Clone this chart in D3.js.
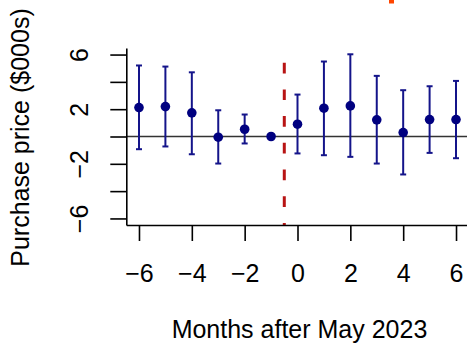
<!DOCTYPE html>
<html>
<head>
<meta charset="utf-8">
<script src="https://cdn.jsdelivr.net/npm/d3@7/dist/d3.min.js"></script>
<style>
  html, body { margin: 0; padding: 0; background: #fff; }
  svg { display: block; }
  text { font-family: "Liberation Sans", Arial, Helvetica, sans-serif; fill: #000; }
</style>
</head>
<body>
<svg id="chart" width="467" height="344"></svg>
<script>
// Event-study estimates: purchase price relative to the month before May 2023
const months    = [-6, -5, -4, -3, -2, -1, 0, 1, 2, 3, 4, 5, 6];
const estimates = [2.12, 2.19, 1.73, -0.05, 0.53, 0, 0.90, 2.07, 2.24, 1.22, 0.29, 1.24, 1.24];
const lower     = [-0.93, -0.73, -1.30, -1.98, -0.51, null, -1.24, -1.37, -1.49, -1.98, -2.78, -1.20, -1.59];
const upper     = [5.20, 5.12, 4.70, 1.92, 1.61, null, 3.07, 5.49, 6.02, 4.44, 3.39, 3.68, 4.07];

const xTicks = [-6, -4, -2, 0, 2, 4, 6];
const yTicks = [-6, -4, -2, 0, 2, 4, 6];
const yTickLabels = [-6, -2, 2, 6];
const eventLine = -0.5;

const xTitle = "Months after May 2023";
const yTitle = "Purchase price ($000s)";

const svg = d3.select("#chart");

// plot region with a 4% pad on each side of the data limits
const pad = 0.04 * 12;
const x = d3.scaleLinear().domain([-6 - pad, 6 + pad]).range([126.3, 468.7]);
const y = d3.scaleLinear().domain([-6 - pad, 6 + pad]).range([225, 48]);

const fmt = v => (v < 0 ? "\u2212" + Math.abs(v) : String(v));
const fontSize = 25;

// zero reference line
svg.append("line")
  .attr("x1", x.range()[0]).attr("x2", x.range()[1])
  .attr("y1", y(0)).attr("y2", y(0))
  .attr("stroke", "#333").attr("stroke-width", 1.6);

// event marker
svg.append("line")
  .attr("x1", x(eventLine)).attr("x2", x(eventLine))
  .attr("y1", y.range()[1]).attr("y2", y.range()[0])
  .attr("stroke", "#B81414").attr("stroke-width", 3)
  .attr("stroke-dasharray", "10.7 16").attr("stroke-dashoffset", 12);

// x axis
const xAxis = svg.append("g")
  .attr("transform", `translate(0,${y.range()[0]})`)
  .call(d3.axisBottom(x).tickValues(xTicks).tickSize(16).tickSizeOuter(0).tickFormat(fmt));
xAxis.select(".domain").attr("stroke", "#000").attr("stroke-width", 1.6);
xAxis.selectAll(".tick line").attr("stroke", "#000").attr("stroke-width", 1.6);
xAxis.selectAll(".tick text")
  .attr("y", 0).attr("dy", 0)
  .attr("transform", "translate(0,57)")
  .style("font-size", fontSize + "px")
  .style("font-family", "'Liberation Sans', Arial, sans-serif")
  .attr("fill", "#000");

// y axis
const yAxis = svg.append("g")
  .attr("transform", `translate(${x.range()[0]},0)`)
  .call(d3.axisLeft(y).tickValues(yTicks).tickSize(16).tickSizeOuter(0)
    .tickFormat(v => yTickLabels.includes(v) ? fmt(v) : ""));
yAxis.select(".domain").attr("stroke", "#000").attr("stroke-width", 1.6);
yAxis.selectAll(".tick line").attr("stroke", "#000").attr("stroke-width", 1.6);
yAxis.selectAll(".tick text")
  .attr("x", 0).attr("dy", 0)
  .attr("text-anchor", "middle")
  .attr("transform", "translate(-38,0) rotate(-90)")
  .style("font-size", fontSize + "px")
  .style("font-family", "'Liberation Sans', Arial, sans-serif")
  .attr("fill", "#000");

// confidence intervals
const rows = months.map((m, i) => ({ m, est: estimates[i], lo: lower[i], hi: upper[i] }));
const ci = rows.filter(d => d.lo !== null);
const capW = 3;
const bars = svg.append("g").attr("stroke", "#14148A").attr("stroke-width", 2);
bars.selectAll("line.ci").data(ci).join("line")
  .attr("x1", d => x(d.m)).attr("x2", d => x(d.m))
  .attr("y1", d => y(d.lo)).attr("y2", d => y(d.hi));
bars.selectAll("line.top").data(ci).join("line")
  .attr("x1", d => x(d.m) - capW).attr("x2", d => x(d.m) + capW)
  .attr("y1", d => y(d.hi)).attr("y2", d => y(d.hi));
bars.selectAll("line.bot").data(ci).join("line")
  .attr("x1", d => x(d.m) - capW).attr("x2", d => x(d.m) + capW)
  .attr("y1", d => y(d.lo)).attr("y2", d => y(d.lo));

// point estimates
svg.append("g").selectAll("circle").data(rows).join("circle")
  .attr("cx", d => x(d.m)).attr("cy", d => y(d.est))
  .attr("r", 4.8).attr("fill", "#000080");

// axis titles
svg.append("text")
  .attr("x", (x.range()[0] + x.range()[1]) / 2 + 2).attr("y", 338)
  .attr("text-anchor", "middle")
  .style("font-size", fontSize + "px")
  .text(xTitle);

svg.append("text")
  .attr("transform", `translate(29,${(y.range()[0] + y.range()[1]) / 2 + 1}) rotate(-90)`)
  .attr("text-anchor", "middle")
  .style("font-size", fontSize + "px")
  .text(yTitle);

// small orange mark at the top edge
svg.append("rect")
  .attr("x", 389).attr("y", 0).attr("width", 5).attr("height", 3.5)
  .attr("fill", "#FF4500");
</script>
</body>
</html>
